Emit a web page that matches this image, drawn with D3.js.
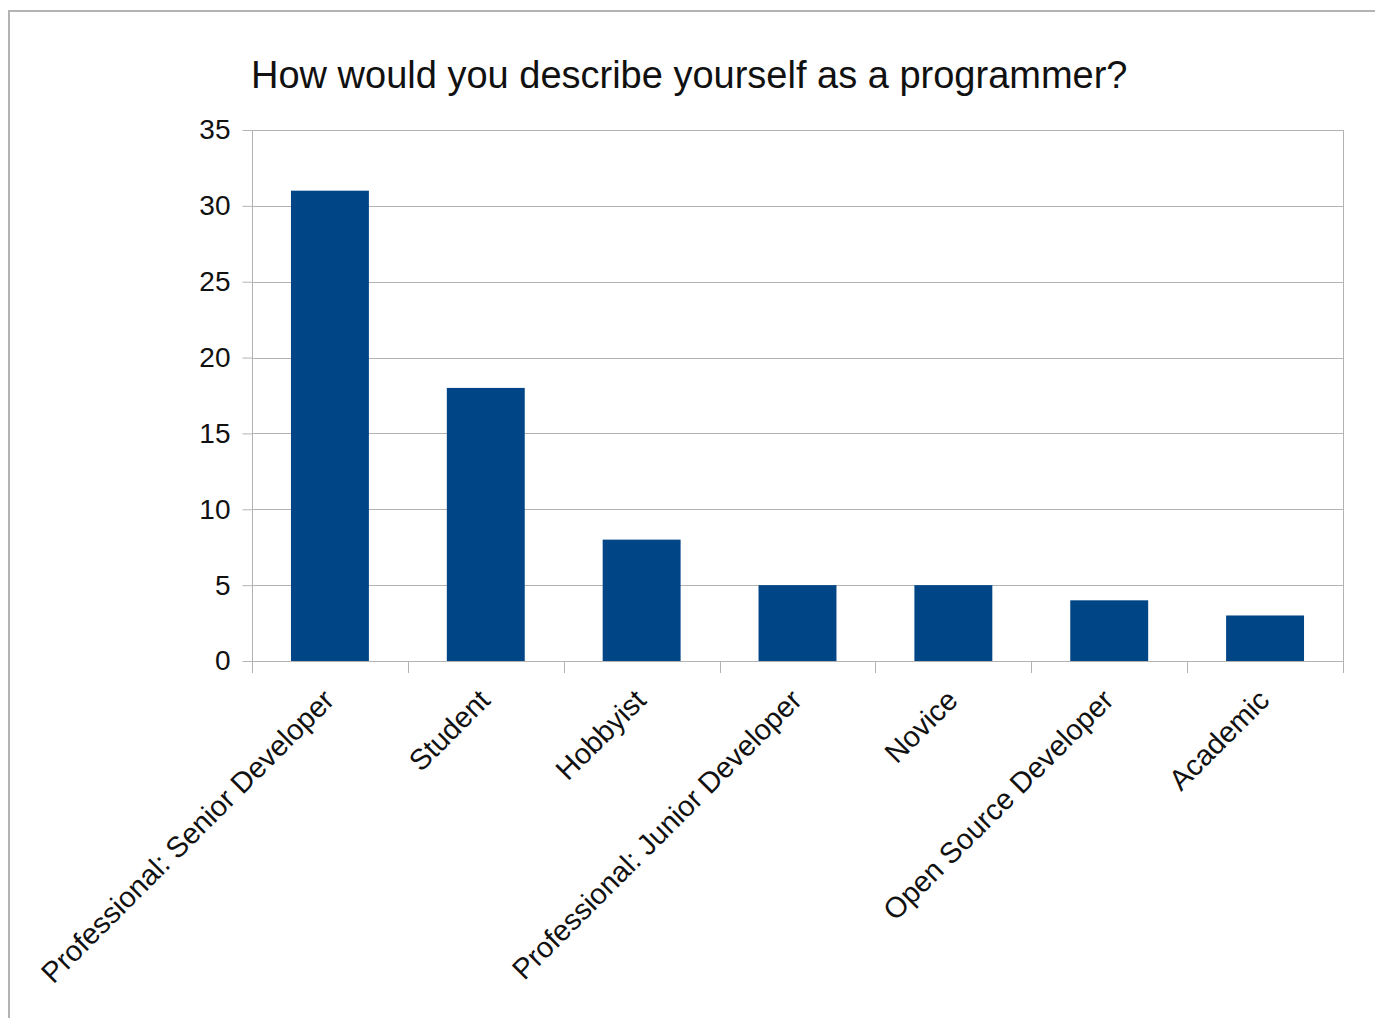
<!DOCTYPE html>
<html>
<head>
<meta charset="utf-8">
<script src="https://cdn.jsdelivr.net/npm/d3@7"></script>
<style>
  html, body { margin: 0; padding: 0; background: #fff; }
  svg { display: block; }
  text { font-family: "Liberation Sans", Arial, sans-serif; fill: #111; }
</style>
</head>
<body>
<svg id="chart" width="1375" height="1018"></svg>
<script>
// Survey answers: how respondents describe themselves as programmers
const categories = [
  "Professional: Senior Developer",
  "Student",
  "Hobbyist",
  "Professional: Junior Developer",
  "Novice",
  "Open Source Developer",
  "Academic"
];
const counts = [31, 18, 8, 5, 5, 4, 3];
const yTicks = [0, 5, 10, 15, 20, 25, 30, 35];
const title = "How would you describe yourself as a programmer?";

const svg = d3.select("#chart");
const W = 1375, H = 1018;
const plot = { left: 252, right: 1343, top: 130, bottom: 661 };
const gridColor = "#b3b3b3";

// outer chart frame
svg.append("rect")
  .attr("x", 9).attr("y", 11)
  .attr("width", W + 20).attr("height", H + 20)
  .attr("fill", "#fff")
  .attr("stroke", gridColor)
  .attr("stroke-width", 2);

const x = d3.scaleBand()
  .domain(categories)
  .range([plot.left, plot.right])
  .paddingInner(0.5)
  .paddingOuter(0.25);

const y = d3.scaleLinear()
  .domain([0, 35])
  .range([plot.bottom, plot.top]);

// horizontal grid lines
svg.append("g")
  .selectAll("line")
  .data(yTicks)
  .join("line")
  .attr("x1", plot.left).attr("x2", plot.right)
  .attr("y1", d => Math.round(y(d)) + 0.5)
  .attr("y2", d => Math.round(y(d)) + 0.5)
  .attr("stroke", gridColor)
  .attr("stroke-width", 1);

// right edge of the plot area
svg.append("line")
  .attr("x1", plot.right + 0.5).attr("x2", plot.right + 0.5)
  .attr("y1", plot.top).attr("y2", plot.bottom)
  .attr("stroke", gridColor);

// bars
svg.append("g")
  .selectAll("rect")
  .data(categories.map((c, i) => ({ c, v: counts[i] })))
  .join("rect")
  .attr("x", d => x(d.c))
  .attr("width", x.bandwidth())
  .attr("y", d => y(d.v))
  .attr("height", d => y(0) - y(d.v))
  .attr("fill", "#004586");

// y axis
const yAxis = svg.append("g")
  .attr("transform", `translate(${plot.left + 0.5},0)`)
  .call(d3.axisLeft(y).tickValues(yTicks).tickSize(10).tickPadding(12));
yAxis.select(".domain").attr("stroke", gridColor).attr("d", `M0,${plot.top}V${plot.bottom}`);
yAxis.selectAll(".tick line").attr("stroke", gridColor);
yAxis.selectAll(".tick text")
  .attr("font-size", 28)
  .attr("font-family", "Liberation Sans, Arial, sans-serif")
  .attr("fill", "#111");

// x axis: ticks sit on category boundaries
const xBounds = d3.range(categories.length + 1).map(i =>
  plot.left + i * (plot.right - plot.left) / categories.length);
const xAxis = svg.append("g");
xAxis.append("line")
  .attr("x1", plot.left).attr("x2", plot.right)
  .attr("y1", plot.bottom + 0.5).attr("y2", plot.bottom + 0.5)
  .attr("stroke", gridColor);
xAxis.selectAll("line.tk")
  .data(xBounds)
  .join("line")
  .attr("class", "tk")
  .attr("x1", d => Math.round(d) + 0.5).attr("x2", d => Math.round(d) + 0.5)
  .attr("y1", plot.bottom).attr("y2", plot.bottom + 12)
  .attr("stroke", gridColor);

xAxis.selectAll("text")
  .data(categories)
  .join("text")
  .attr("transform", d => `translate(${x(d) + x.bandwidth() / 2 + 6},${plot.bottom + 41}) rotate(-45)`)
  .attr("text-anchor", "end")
  .attr("font-size", 29)
  .text(d => d);

// title
svg.append("text")
  .attr("x", 251)
  .attr("y", 88)
  .attr("font-size", 38)
  .text(title);
</script>
</body>
</html>
